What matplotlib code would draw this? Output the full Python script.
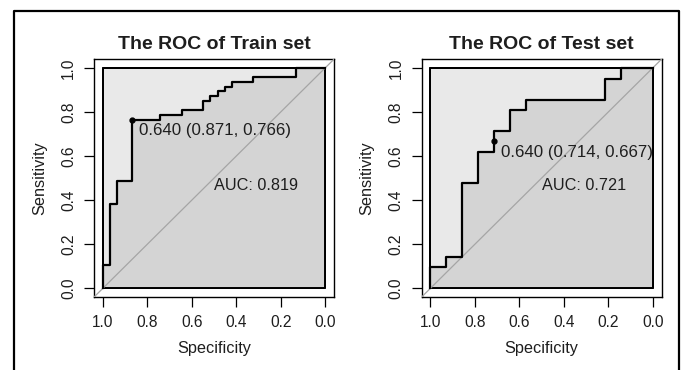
import numpy as np
import matplotlib
matplotlib.use('Agg')
import matplotlib.pyplot as plt
from matplotlib.lines import Line2D

plt.rcParams['font.family'] = ['Liberation Sans', 'DejaVu Sans']

# ROC corner points (specificity, sensitivity)
train_spec = [1.000, 1.000, 0.968, 0.935, 0.871, 0.742, 0.645, 0.548, 0.516,
              0.484, 0.452, 0.419, 0.323, 0.129, 0.000]
train_sens = [0.000, 0.106, 0.383, 0.489, 0.766, 0.787, 0.809, 0.851, 0.872,
              0.894, 0.915, 0.936, 0.957, 1.000, 1.000]
train_best = (0.871, 0.766)
train_threshold = 0.640
train_auc = 0.819

test_spec = [1.000, 1.000, 0.929, 0.857, 0.786, 0.714, 0.643, 0.571, 0.214,
             0.143, 0.000]
test_sens = [0.000, 0.095, 0.143, 0.476, 0.619, 0.714, 0.810, 0.857, 0.952,
             1.000, 1.000]
test_best = (0.714, 0.667)
test_threshold = 0.640
test_auc = 0.721

ticks = [1.0, 0.8, 0.6, 0.4, 0.2, 0.0]
tick_labels = ['1.0', '0.8', '0.6', '0.4', '0.2', '0.0']

LIGHT = '#e9e9e9'
DARK = '#d4d4d4'
TEXT = '#1e1e1e'


def draw_roc(ax, spec, sens, best, thr, auc, title):
	ax.set_facecolor('white')
	# max auc polygon
	ax.fill_between([1, 0], 0, 1, facecolor=LIGHT, edgecolor='black', linewidth=1.4, zorder=1)
	# auc polygon
	ax.fill_between(spec, sens, 0, step='post', facecolor=DARK, edgecolor='none', zorder=2)
	ax.fill_between([1, 0], 0, 1, facecolor='none', edgecolor='black', linewidth=1.4, zorder=3)
	ax.axline((1, 0), (0, 1), color='#a5a5a5', linewidth=0.9, zorder=4)
	ax.plot(spec, sens, drawstyle='steps-post', color='black', linewidth=1.6, zorder=5)
	ax.plot([best[0]], [best[1]], 'o', color='black', markersize=3.5, zorder=6)
	ax.text(best[0] - 0.033, best[1] - 0.05, '%.3f (%.3f, %.3f)' % (thr, best[0], best[1]),
		ha='left', va='center', fontsize=12.2, color=TEXT, zorder=7)
	ax.text(0.5, 0.465, 'AUC: %.3f' % auc, ha='left', va='center', fontsize=11.7,
		color=TEXT, zorder=7)

	ax.set_xlim(1.04, -0.04)
	ax.set_ylim(-0.04, 1.04)
	ax.set_xticks(ticks)
	ax.set_xticklabels(tick_labels)
	ax.set_yticks(ticks)
	ax.set_yticklabels(tick_labels, rotation=90, va='center')
	ax.tick_params(direction='out', length=7, width=0.9, labelsize=11.2, pad=6,
		labelcolor=TEXT)
	ax.tick_params(axis='y', pad=6)
	for s in ax.spines.values():
		s.set_linewidth(1.0)
	ax.set_xlabel('Specificity', fontsize=11.7, labelpad=8, color=TEXT)
	ax.set_ylabel('Sensitivity', fontsize=11.7, labelpad=10, color=TEXT)
	ax.set_title(title, fontsize=14, fontweight='bold', pad=7, color=TEXT)


def main():
	fig = plt.figure(figsize=(6.83, 3.70), dpi=100)
	ax1 = fig.add_axes([0.1376, 0.197, 0.3514, 0.643])
	ax2 = fig.add_axes([0.6172, 0.197, 0.3514, 0.643])
	draw_roc(ax1, train_spec, train_sens, train_best, train_threshold, train_auc, 'The ROC of Train set')
	draw_roc(ax2, test_spec, test_sens, test_best, test_threshold, test_auc, 'The ROC of Test set')

	# outer frame (left, top, right)
	x0, x1 = 14 / 683, 679 / 683
	y0, y1 = 0.0, 1 - 11 / 370
	fig.add_artist(Line2D([x0, x0, x1, x1], [y0, y1, y1, y0], color='black', linewidth=1.6,
		transform=fig.transFigure))

	fig.savefig('out.png', dpi=100)


if __name__ == '__main__':
	main()
